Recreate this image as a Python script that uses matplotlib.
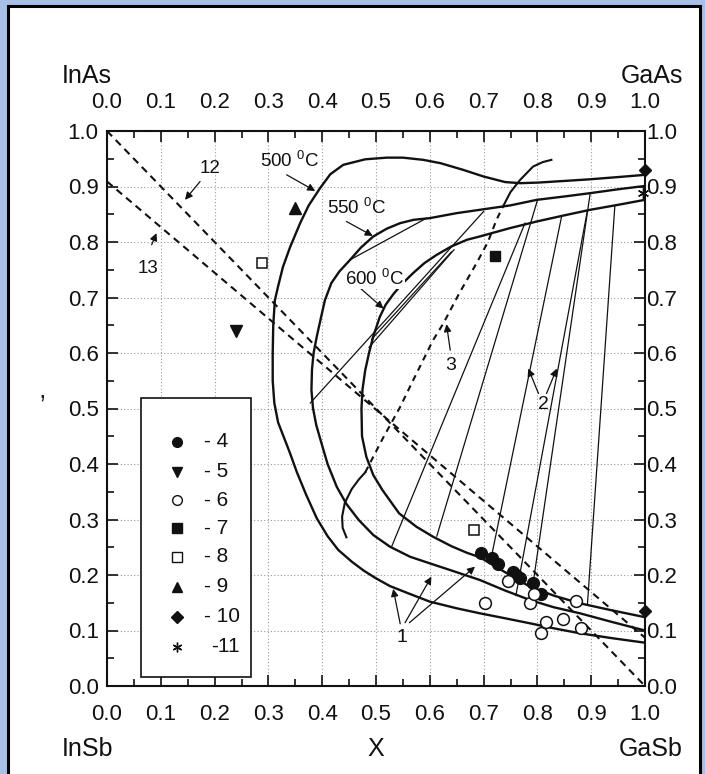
import numpy as np
import matplotlib
matplotlib.use("Agg")
import matplotlib.pyplot as plt
from matplotlib.patches import Rectangle

plt.rcParams['font.family'] = ['Liberation Sans', 'DejaVu Sans']
plt.rcParams['mathtext.default'] = 'regular'

# ---------------- data ----------------
# 500 C miscibility-gap boundary (upper branch -> left -> lower branch)
c500_x = [1.0, 0.95, 0.898, 0.85, 0.80, 0.768, 0.74, 0.70, 0.662, 0.62, 0.588, 0.55, 0.52, 0.48, 0.439,
          0.415, 0.396, 0.375, 0.359, 0.34, 0.327, 0.318, 0.312, 0.309, 0.308, 0.308, 0.311, 0.318, 0.328,
          0.34, 0.353, 0.37, 0.39, 0.41, 0.43, 0.455, 0.477, 0.50, 0.526, 0.56, 0.60, 0.65, 0.693, 0.74,
          0.786, 0.83, 0.879, 0.94, 1.0]
c500_y = [0.921, 0.917, 0.913, 0.910, 0.907, 0.906, 0.908, 0.918, 0.930, 0.942, 0.948, 0.952, 0.952, 0.949,
          0.939, 0.922, 0.897, 0.866, 0.834, 0.790, 0.755, 0.720, 0.695, 0.650, 0.600, 0.550, 0.510, 0.475,
          0.450, 0.420, 0.385, 0.345, 0.302, 0.270, 0.245, 0.224, 0.208, 0.194, 0.180, 0.167, 0.152, 0.140,
          0.131, 0.122, 0.113, 0.104, 0.095, 0.086, 0.078]

c550_x = [1.0, 0.95, 0.898, 0.85, 0.799, 0.75, 0.693, 0.65, 0.60, 0.57, 0.545, 0.52, 0.495, 0.472, 0.452,
          0.432, 0.417, 0.405, 0.398, 0.390, 0.384, 0.381, 0.380, 0.383, 0.389, 0.397, 0.410, 0.427, 0.445,
          0.468, 0.495, 0.526, 0.563, 0.60, 0.65, 0.693, 0.74, 0.786, 0.83, 0.879, 0.94, 1.0]
c550_y = [0.901, 0.895, 0.888, 0.882, 0.876, 0.866, 0.858, 0.852, 0.843, 0.840, 0.834, 0.824, 0.810, 0.790,
          0.768, 0.747, 0.726, 0.695, 0.665, 0.630, 0.600, 0.570, 0.533, 0.500, 0.470, 0.443, 0.400, 0.359,
          0.328, 0.299, 0.272, 0.251, 0.233, 0.221, 0.205, 0.191, 0.172, 0.155, 0.142, 0.131, 0.115, 0.100]

c600_x = [1.0, 0.95, 0.898, 0.85, 0.799, 0.749, 0.693, 0.669, 0.64, 0.613, 0.59, 0.569, 0.55, 0.533, 0.518,
          0.507, 0.495, 0.487, 0.480, 0.475, 0.473, 0.474, 0.482, 0.495, 0.512, 0.543, 0.575, 0.606, 0.640,
          0.669, 0.693, 0.74, 0.786, 0.83, 0.879, 0.94, 1.0]
c600_y = [0.876, 0.867, 0.858, 0.848, 0.837, 0.825, 0.810, 0.804, 0.792, 0.777, 0.762, 0.744, 0.726, 0.707,
          0.687, 0.665, 0.630, 0.600, 0.569, 0.535, 0.500, 0.450, 0.413, 0.380, 0.353, 0.311, 0.287, 0.269,
          0.252, 0.240, 0.232, 0.205, 0.179, 0.163, 0.149, 0.136, 0.124]

# tie lines (lower end -> upper end)
tie_x0 = [0.378, 0.452, 0.492, 0.487, 0.529, 0.613, 0.712, 0.760, 0.790, 0.893]
tie_y0 = [0.510, 0.768, 0.625, 0.610, 0.251, 0.270, 0.221, 0.163, 0.172, 0.147]
tie_x1 = [0.700, 0.594, 0.640, 0.645, 0.777, 0.800, 0.845, 0.893, 0.898, 0.944]
tie_y1 = [0.855, 0.843, 0.782, 0.786, 0.834, 0.875, 0.846, 0.857, 0.887, 0.866]

# curve 3: solid lower hook, dashed middle, solid upper end
c3_low_x = [0.445, 0.438, 0.437, 0.442, 0.455, 0.468, 0.480]
c3_low_y = [0.268, 0.285, 0.305, 0.330, 0.355, 0.372, 0.385]
c3_mid_x = [0.480, 0.512, 0.545, 0.563, 0.585, 0.606, 0.625, 0.655, 0.687, 0.708, 0.724, 0.736]
c3_mid_y = [0.385, 0.445, 0.503, 0.539, 0.582, 0.623, 0.653, 0.708, 0.762, 0.800, 0.840, 0.864]
c3_top_x = [0.736, 0.750, 0.768, 0.792, 0.810, 0.826]
c3_top_y = [0.864, 0.890, 0.912, 0.936, 0.944, 0.948]

# dashed lines 12 and 13
l12_x = [0.0, 1.0]
l12_y = [1.0, 0.0]
l13_x = [0.0, 1.0]
l13_y = [0.909, 0.087]

# experimental points
p4_x = [0.696, 0.715, 0.727, 0.755, 0.761, 0.767, 0.792, 0.807]
p4_y = [0.239, 0.230, 0.220, 0.206, 0.200, 0.194, 0.186, 0.165]
p5_x = [0.239]
p5_y = [0.640]
p6_x = [0.703, 0.746, 0.786, 0.794, 0.807, 0.816, 0.847, 0.872, 0.881]
p6_y = [0.150, 0.189, 0.150, 0.165, 0.096, 0.116, 0.120, 0.153, 0.105]
p7_x = [0.721]
p7_y = [0.775]
p8_x = [0.289, 0.683]
p8_y = [0.762, 0.281]
p9_x = [0.349]
p9_y = [0.861]
p10_x = [1.0, 1.0]
p10_y = [0.930, 0.135]
p11_x = [0.996]
p11_y = [0.888]

legend_labels = ['- 4', '- 5', '- 6', '- 7', '- 8', '- 9', '- 10', '-11']
x_ticks = [0.0, 0.1, 0.2, 0.3, 0.4, 0.5, 0.6, 0.7, 0.8, 0.9, 1.0]
y_ticks = [0.0, 0.1, 0.2, 0.3, 0.4, 0.5, 0.6, 0.7, 0.8, 0.9, 1.0]

# ---------------- figure ----------------
W, H = 705, 774
fig = plt.figure(figsize=(W / 100, H / 100), dpi=100)
fig.patch.set_facecolor('#a8bfe7')
frame = Rectangle((8 / W, -0.05), (700 - 8) / W, 1.05 - 6 / H, transform=fig.transFigure,
                  facecolor='white', edgecolor='black', linewidth=2.2, zorder=-10)
fig.patches.append(frame)

ax = fig.add_axes([107 / W, 1 - 686 / H, (645 - 107) / W, (686 - 131) / H])
ax.set_facecolor('white')
ax.set_xlim(0, 1)
ax.set_ylim(0, 1)

ink = '#111111'
ax.grid(True, which='major', color='#9a9a9a', linestyle=(0, (1, 2)), linewidth=0.8)
ax.set_axisbelow(True)

for cx, cy in [(c500_x, c500_y), (c550_x, c550_y), (c600_x, c600_y)]:
    ax.plot(cx, cy, color=ink, lw=1.7, solid_joinstyle='round', zorder=3)

for x0, y0, x1, y1 in zip(tie_x0, tie_y0, tie_x1, tie_y1):
    ax.plot([x0, x1], [y0, y1], color=ink, lw=0.9, zorder=3)

ax.plot(c3_low_x, c3_low_y, color=ink, lw=1.5, zorder=3)
ax.plot(c3_mid_x, c3_mid_y, color=ink, lw=1.5, ls=(0, (3, 2.5)), zorder=3)
ax.plot(c3_top_x, c3_top_y, color=ink, lw=1.5, zorder=3)

ax.plot(l12_x, l12_y, color=ink, lw=1.5, ls=(0, (3.5, 2.5)), zorder=3)
ax.plot(l13_x, l13_y, color=ink, lw=1.5, ls=(0, (3.5, 2.5)), zorder=3)

ms = 8.5
ax.plot(p4_x, p4_y, 'o', ms=ms, mfc=ink, mec=ink, zorder=6, clip_on=False)
ax.plot(p5_x, p5_y, 'v', ms=ms, mfc=ink, mec=ink, zorder=6, clip_on=False)
ax.plot(p6_x, p6_y, 'o', ms=ms, mfc='white', mec=ink, mew=1.1, zorder=6, clip_on=False)
ax.plot(p7_x, p7_y, 's', ms=7.5, mfc=ink, mec=ink, zorder=6, clip_on=False)
ax.plot(p8_x, p8_y, 's', ms=7.5, mfc='white', mec=ink, mew=1.1, zorder=6, clip_on=False)
ax.plot(p9_x, p9_y, '^', ms=ms, mfc=ink, mec=ink, zorder=6, clip_on=False)
ax.plot(p10_x, p10_y, 'D', ms=6.5, mfc=ink, mec=ink, zorder=6, clip_on=False)
ax.plot(p11_x, p11_y, marker=(6, 2, 0), ms=8, color=ink, mew=1.0, ls='none', zorder=6, clip_on=False)

# legend box (drawn manually, like the original)
ax.add_patch(Rectangle((0.0625, 0.017), 0.2045, 0.502, facecolor='white', edgecolor=ink,
                       linewidth=1.2, zorder=7))
leg_y = [0.440, 0.386, 0.335, 0.284, 0.233, 0.179, 0.125, 0.071]
leg_style = [dict(marker='o', mfc=ink), dict(marker='v', mfc=ink), dict(marker='o', mfc='white'),
             dict(marker='s', mfc=ink), dict(marker='s', mfc='white'), dict(marker='^', mfc=ink),
             dict(marker='D', mfc=ink), dict(marker=(6, 2, 0), mfc=ink)]
for yy, st, lab in zip(leg_y, leg_style, legend_labels):
    ax.plot([0.131], [yy], ls='none', ms=7 if st['marker'] != 'D' else 6, mec=ink, mew=1.0,
            color=ink, zorder=8, **st)
    ax.text(0.18 if lab != '-11' else 0.193, yy, lab, fontsize=15, va='center', ha='left',
            color=ink, zorder=8)

# annotations
arrow = dict(arrowstyle='-|>', color=ink, lw=0.9, mutation_scale=11, shrinkA=0, shrinkB=0)
ax.annotate('', xy=(0.145, 0.876), xytext=(0.173, 0.909), arrowprops=arrow)
ax.text(0.191, 0.933, '12', fontsize=13.5, ha='center', va='center', color=ink)
ax.annotate('', xy=(0.092, 0.816), xytext=(0.083, 0.795), arrowprops=arrow)
ax.text(0.077, 0.753, '13', fontsize=13.5, ha='center', va='center', color=ink)

ax.annotate('', xy=(0.387, 0.892), xytext=(0.334, 0.921), arrowprops=arrow)
ax.text(0.34, 0.946, r'500 $^0$C', fontsize=13.5, ha='center', va='center', color=ink)
ax.annotate('', xy=(0.494, 0.811), xytext=(0.445, 0.837), arrowprops=arrow)
ax.text(0.464, 0.862, r'550 $^0$C', fontsize=13.5, ha='center', va='center', color=ink)
ax.annotate('', xy=(0.514, 0.680), xytext=(0.467, 0.720), arrowprops=arrow)
ax.text(0.498, 0.734, r'600 $^0$C', fontsize=13.5, ha='center', va='center', color=ink,
        bbox=dict(facecolor='white', edgecolor='none', pad=0.5))

ax.annotate('', xy=(0.631, 0.652), xytext=(0.638, 0.605), arrowprops=arrow)
ax.text(0.638, 0.577, '3', fontsize=14, ha='center', va='center', color=ink)

ax.annotate('', xy=(0.783, 0.572), xytext=(0.802, 0.527), arrowprops=arrow)
ax.annotate('', xy=(0.836, 0.572), xytext=(0.817, 0.527), arrowprops=arrow)
ax.text(0.811, 0.507, '2', fontsize=14, ha='center', va='center', color=ink)

ax.annotate('', xy=(0.532, 0.175), xytext=(0.545, 0.112), arrowprops=arrow)
ax.annotate('', xy=(0.603, 0.197), xytext=(0.554, 0.114), arrowprops=arrow)
ax.annotate('', xy=(0.684, 0.215), xytext=(0.562, 0.114), arrowprops=arrow)
ax.text(0.548, 0.088, '1', fontsize=14, ha='center', va='center', color=ink)

# axes, ticks
for sp in ax.spines.values():
    sp.set_linewidth(1.5)
    sp.set_color(ink)
ax.set_xticks(x_ticks)
ax.set_yticks(y_ticks)
ax.set_xticks(np.arange(0.05, 1.0, 0.1), minor=True)
ax.set_yticks(np.arange(0.05, 1.0, 0.1), minor=True)
ax.set_xticklabels(['%.1f' % v for v in x_ticks])
ax.set_yticklabels(['%.1f' % v for v in y_ticks])
ax.tick_params(which='both', direction='in', top=True, right=True, labeltop=True,
               labelright=False, width=1.2, colors=ink, labelsize=16)
ax.tick_params(which='major', length=8)
ax.tick_params(which='minor', length=5)
ax.tick_params(axis='x', which='major', pad=13)
ax.tick_params(axis='y', which='major', pad=6)

# right-hand labels sit almost on the spine
secy = ax.secondary_yaxis('right')
secy.set_yticks(y_ticks)
secy.set_yticklabels(['%.1f' % v for v in y_ticks])
secy.tick_params(length=0, pad=1, labelsize=16, colors=ink)
secy.spines['right'].set_visible(False)

# corner / axis labels
fs = 18
fig.text(62 / W, 1 - 76 / H, 'InAs', fontsize=fs, ha='left', va='center', color=ink)
fig.text(683 / W, 1 - 76 / H, 'GaAs', fontsize=fs, ha='right', va='center', color=ink)
fig.text(62 / W, 1 - 749 / H, 'InSb', fontsize=fs, ha='left', va='center', color=ink)
fig.text(683 / W, 1 - 749 / H, 'GaSb', fontsize=fs, ha='right', va='center', color=ink)
fig.text(376 / W, 1 - 749 / H, 'X', fontsize=fs, ha='center', va='center', color=ink)
fig.text(42 / W, 1 - 406 / H, '\u2019', fontsize=18, ha='center', va='center', color=ink)

fig.savefig('out.png', dpi=100, facecolor=fig.get_facecolor())
